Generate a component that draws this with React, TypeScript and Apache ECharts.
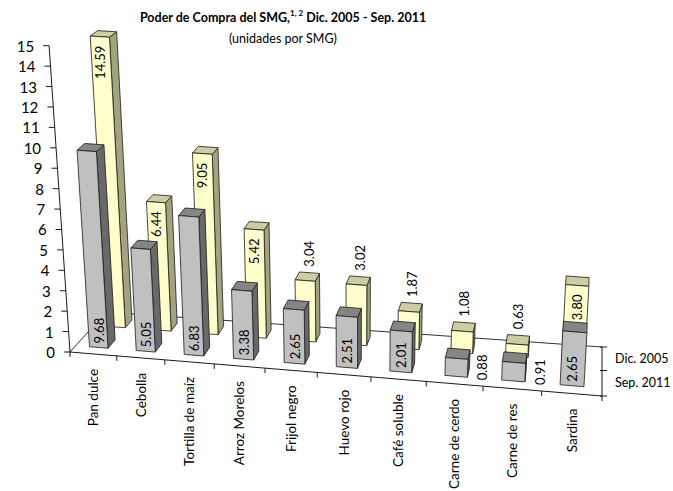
import React, { useEffect, useRef } from "react";
import * as echarts from "echarts";

const categories = [
  "Pan dulce",
  "Cebolla",
  "Tortilla de maíz",
  "Arroz Morelos",
  "Frijol negro",
  "Huevo rojo",
  "Café soluble",
  "Carne de cerdo",
  "Carne de res",
  "Sardina",
];
const dic2005 = [14.59, 6.44, 9.05, 5.42, 3.04, 3.02, 1.87, 1.08, 0.63, 3.8];
const sep2011 = [9.68, 5.05, 6.83, 3.38, 2.65, 2.51, 2.01, 0.88, 0.91, 2.65];
const seriesNames = ["Dic. 2005", "Sep. 2011"];
const yTicks = [0, 1, 2, 3, 4, 5, 6, 7, 8, 9, 10, 11, 12, 13, 14, 15];

const FONT = "Lato, 'Open Sans', sans-serif";

type Pt = [number, number];

function makeHomography(p0: Pt, p1: Pt, p2: Pt, p3: Pt) {
  const [x0, y0] = p0, [x1, y1] = p1, [x2, y2] = p2, [x3, y3] = p3;
  const dx1 = x1 - x2, dx2 = x3 - x2, dx3 = x0 - x1 + x2 - x3;
  const dy1 = y1 - y2, dy2 = y3 - y2, dy3 = y0 - y1 + y2 - y3;
  const den = dx1 * dy2 - dx2 * dy1;
  const g = (dx3 * dy2 - dx2 * dy3) / den;
  const h = (dx1 * dy3 - dx3 * dy1) / den;
  const a = x1 - x0 + g * x1, b = x3 - x0 + h * x3, c = x0;
  const d = y1 - y0 + g * y1, e = y3 - y0 + h * y3, f = y0;
  return (u: number, v: number): Pt => {
    const w = g * u + h * v + 1;
    return [(a * u + b * v + c) / w, (d * u + e * v + f) / w];
  };
}

// 3D-like projection built around the cartesian grid rect
function scene(cs: any) {
  const x0 = cs.x, yb = cs.y + cs.height, w = cs.width;
  const H = makeHomography([x0, yb], [x0 + w, yb + 44], [x0 + w, yb - 5], [x0 + 36, yb - 40]);
  const vp: Pt = [x0 + 283, yb + 4148];
  return (t: number, d: number, hp: number): Pt => {
    const p = H(t, d);
    const vx = p[0] - vp[0], vy = p[1] - vp[1];
    const n = Math.hypot(vx, vy);
    const s = hp * (1 - 0.04 * d);
    return [p[0] + (vx / n) * s, p[1] + (vy / n) * s];
  };
}

const DEPTH: [number, number][] = [
  [0.65, 0.85], // Dic. 2005 (back row)
  [0.15, 0.35], // Sep. 2011 (front row)
];
const COLORS = [
  { front: "#ffffcc", top: "#cdcda3", side: "#a3a37e" },
  { front: "#c0c0c0", top: "#858585", side: "#696969" },
];
const EDGE = "#1a1a1a";

function txt(x: number, y: number, text: string, align: string, size: number, rot = Math.PI / 2) {
  return {
    type: "text",
    x,
    y,
    rotation: rot,
    style: {
      text,
      fill: "#000",
      fontSize: size,
      fontFamily: FONT,
      align,
      verticalAlign: "middle",
      textAlign: align,
      textVerticalAlign: "middle",
    },
  };
}

function poly(points: Pt[], fill: string) {
  return {
    type: "polygon",
    shape: { points },
    style: { fill, stroke: EDGE, lineWidth: 0.8, lineJoin: "round" },
  };
}

function barRender(k: number) {
  return (params: any, api: any) => {
    const cs = params.coordSys;
    const P = scene(cs);
    const i = api.value(0);
    const v = api.value(1);
    const c = api.coord([i, v]);
    const c0 = api.coord([i, 0]);
    const hp = c0[1] - c[1];
    const band = cs.width / categories.length;
    const tc = (c[0] - cs.x) / cs.width;
    const half = (0.2 * band) / cs.width;
    const t0 = tc - half, t1 = tc + half;
    const [d0, d1] = DEPTH[k];
    const col = COLORS[k];
    const children: any[] = [];
    // side face
    if (P(t1, d1, 0)[0] > P(t1, d0, 0)[0] + 0.3) {
      children.push(poly([P(t1, d0, 0), P(t1, d1, 0), P(t1, d1, hp), P(t1, d0, hp)], col.side));
    } else if (P(t0, d1, 0)[0] < P(t0, d0, 0)[0] - 0.3) {
      children.push(poly([P(t0, d0, 0), P(t0, d1, 0), P(t0, d1, hp), P(t0, d0, hp)], col.side));
    }
    // top face
    children.push(poly([P(t0, d0, hp), P(t1, d0, hp), P(t1, d1, hp), P(t0, d1, hp)], col.top));
    // front face
    children.push(poly([P(t0, d0, 0), P(t1, d0, 0), P(t1, d0, hp), P(t0, d0, hp)], col.front));

    const label = v.toFixed(2);
    if (k === 0) {
      const a = P(t0, d0, hp), b = P(t1, d0, hp);
      if (v >= 3.5) {
        children.push(txt((a[0] + b[0]) / 2, (a[1] + b[1]) / 2 + 9, label, "right", 13));
      } else {
        const a2 = P(t0, d1, hp), b2 = P(t1, d1, hp);
        children.push(txt((a2[0] + b2[0]) / 2, (a2[1] + b2[1]) / 2 - 6, label, "left", 13));
      }
    } else {
      const a = P(t0, d0, 0), b = P(t1, d0, 0);
      if (v >= 1.5) {
        children.push(txt((a[0] + b[0]) / 2, (a[1] + b[1]) / 2 - 4, label, "left", 13));
      } else {
        const r = P(t1, d0, 0);
        children.push(txt(r[0] + 15, r[1] + 3, label, "left", 13));
      }
    }
    return { type: "group", children };
  };
}

function axesRender(params: any, api: any) {
  const cs = params.coordSys;
  const P = scene(cs);
  const base = api.coord([0, 0])[1];
  const children: any[] = [];
  const line = (p: Pt, q: Pt, w = 0.9) => ({
    type: "line",
    shape: { x1: p[0], y1: p[1], x2: q[0], y2: q[1] },
    style: { stroke: "#000", lineWidth: w },
  });
  // floor outline
  children.push(line(P(0, 0, 0), P(0, 1, 0), 0.8));
  children.push(line(P(0, 1, 0), P(1, 1, 0), 0.8));
  children.push(line(P(0, 0, 0), P(1, 0, 0)));
  children.push(line(P(1, 0, 0), P(1, 1, 0)));
  // value axis
  const maxH = base - api.coord([0, yTicks[yTicks.length - 1]])[1];
  children.push(line(P(0, 0, 0), P(0, 0, maxH)));
  yTicks.forEach((tv) => {
    const hp = base - api.coord([0, tv])[1];
    const p = P(0, 0, hp);
    children.push(line(p, [p[0] - 6, p[1]]));
    children.push(txt(p[0] - 15, p[1], String(tv), "right", 15, 0));
  });
  // category ticks and labels
  const n = categories.length;
  for (let j = 0; j <= n; j++) {
    const p = P(j / n, 0, 0);
    children.push(line(p, [p[0], p[1] + 5]));
  }
  categories.forEach((name, j) => {
    const p = P((j + 0.5) / n, 0, 0);
    children.push(txt(p[0], p[1] + 15, name, "right", 13.5));
  });
  // depth axis
  [0, 0.5, 1].forEach((d) => {
    const p = P(1, d, 0);
    children.push(line([p[0] - 2, p[1]], [p[0] + 5, p[1]]));
  });
  seriesNames.forEach((name, k) => {
    const d = (DEPTH[k][0] + DEPTH[k][1]) / 2;
    const p = P(1, d, 0);
    children.push(txt(p[0] + 13, p[1], name, "left", 12.5, 0));
  });
  return { type: "group", children };
}

export default function App() {
  const ref = useRef<HTMLDivElement>(null);
  useEffect(() => {
    const chart = echarts.init(ref.current!, null, { renderer: "svg" });
    chart.setOption({
      animation: false,
      backgroundColor: "#ffffff",
      grid: { left: 70, top: 45, width: 532, height: 307 },
      xAxis: { type: "category", data: categories, show: false },
      yAxis: { type: "value", min: 0, max: 15, interval: 1, show: false },
      graphic: [
        {
          type: "text",
          x: 283,
          y: 17,
          style: {
            text: "{b|Poder de Compra del SMG,}{s|1, 2}{b| Dic. 2005 - Sep. 2011}",
            align: "center",
            verticalAlign: "middle",
            textAlign: "center",
            textVerticalAlign: "middle",
            rich: {
              b: { fontFamily: FONT, fontSize: 12.5, fontWeight: "bold", fill: "#000", color: "#000", lineHeight: 16 },
              s: { fontFamily: FONT, fontSize: 8, fontWeight: "bold", fill: "#000", color: "#000", verticalAlign: "top", lineHeight: 16 },
            },
          },
        },
        {
          type: "text",
          x: 283,
          y: 38,
          style: {
            text: "(unidades por SMG)",
            fontFamily: FONT,
            fontSize: 12.5,
            fill: "#000",
            align: "center",
            verticalAlign: "middle",
            textAlign: "center",
            textVerticalAlign: "middle",
          },
        },
      ],
      series: [
        {
          type: "custom",
          name: "axes",
          z: 1,
          clip: false,
          silent: true,
          renderItem: axesRender,
          data: [[0, 0]],
        },
        {
          type: "custom",
          name: seriesNames[0],
          z: 2,
          clip: false,
          renderItem: barRender(0),
          encode: { x: 0, y: 1 },
          data: dic2005.map((v, i) => [i, v]),
        },
        {
          type: "custom",
          name: seriesNames[1],
          z: 3,
          clip: false,
          renderItem: barRender(1),
          encode: { x: 0, y: 1 },
          data: sep2011.map((v, i) => [i, v]),
        },
      ],
    });
    return () => chart.dispose();
  }, []);
  return (
    <div
      ref={ref}
      style={{ position: "fixed", left: 0, top: 0, width: 673, height: 491, background: "#fff" }}
    />
  );
}
